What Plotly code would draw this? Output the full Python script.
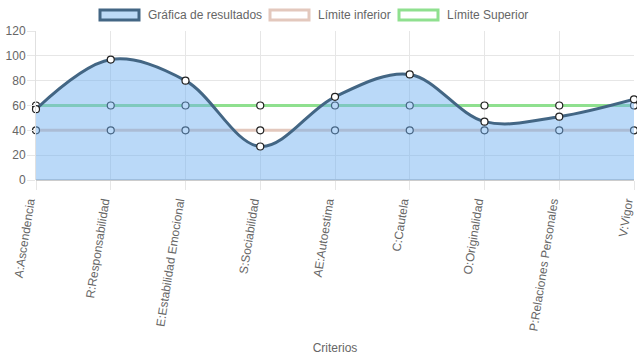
import plotly.graph_objects as go

categories = ["A:Ascendencia", "R:Responsabilidad", "E:Estabilidad Emocional",
              "S:Sociabilidad", "AE:Autoestima", "C:Cautela", "O:Originalidad",
              "P:Relaciones Personales", "V:Vigor"]
resultados = [57, 97, 80, 27, 67, 85, 47, 51, 65]
limite_inferior = [40, 40, 40, 40, 40, 40, 40, 40, 40]
limite_superior = [60, 60, 60, 60, 60, 60, 60, 60, 60]

series_names = ["Gráfica de resultados", "Límite inferior", "Límite Superior"]
line_colors = ["#436684", "#e3c8bd", "#8fe08f"]
legend_fills = ["#bcdaf6", "white", "white"]

W, H = 637, 359
L, R, T, B = 36, 3, 31, 179

x = list(range(len(categories)))
marker_style = dict(size=7, color="white", line=dict(color="#222", width=1.2))

fig = go.Figure()
fig.add_trace(go.Scatter(
    x=x, y=limite_inferior, name=series_names[1], mode="lines+markers",
    line=dict(color=line_colors[1], width=3), marker=marker_style,
    cliponaxis=False))
fig.add_trace(go.Scatter(
    x=x, y=limite_superior, name=series_names[2], mode="lines+markers",
    line=dict(color=line_colors[2], width=3), marker=marker_style,
    cliponaxis=False))
fig.add_trace(go.Scatter(
    x=x, y=resultados, name=series_names[0], mode="lines+markers",
    line=dict(color=line_colors[0], width=3, shape="spline", smoothing=1.0),
    marker=marker_style, fill="tozeroy", fillcolor="rgba(110,175,240,0.48)",
    cliponaxis=False))

# manual legend (Chart.js style boxes)
pw = W - L - R
ph = H - T - B


def px_x(p):
    return (p - L) / pw


def px_y(p):
    return (H - B - p) / ph


box_lefts = [99, 269, 398]
for i, name in enumerate(series_names):
    bx = box_lefts[i]
    fig.add_shape(type="rect", xref="paper", yref="paper",
                  x0=px_x(bx + 1), x1=px_x(bx + 40), y0=px_y(20), y1=px_y(10),
                  line=dict(color=line_colors[i], width=3),
                  fillcolor=legend_fills[i], layer="above")
    fig.add_annotation(xref="paper", yref="paper", x=px_x(bx + 47), y=px_y(15.5),
                       text=name, showarrow=False, xanchor="left", yanchor="middle",
                       font=dict(size=12, color="#666"))

fig.update_layout(
    width=W, height=H,
    margin=dict(l=L, r=R, t=T, b=B, autoexpand=False),
    paper_bgcolor="white", plot_bgcolor="white",
    font=dict(family="Liberation Sans, Arial, sans-serif", size=12, color="#666"),
    showlegend=False,
    xaxis=dict(
        tickmode="array", tickvals=x, ticktext=categories,
        range=[0, len(x) - 1],
        tickangle=-81, showgrid=True, gridcolor="#e6e6e6", ticks="outside",
        ticklen=9, tickcolor="#e6e6e6", showline=False, zeroline=False,
        automargin=False, ticklabelshift=-7, ticklabelstandoff=0,
        ticklabeloverflow="allow",
        title=dict(text="Criterios", font=dict(size=12, color="#666"), standoff=12),
    ),
    yaxis=dict(
        range=[0, 120], dtick=20, showgrid=True, gridcolor="#e6e6e6",
        ticks="outside", ticklen=8, tickcolor="#e6e6e6", showline=True,
        linecolor="#e0e0e0", zeroline=True, zerolinecolor="#cccccc",
        zerolinewidth=2, automargin=False, ticklabelstandoff=-1,
    ),
)

fig.write_html("out.html", config={"displayModeBar": False},
               post_script="document.body.style.margin='0px';")
